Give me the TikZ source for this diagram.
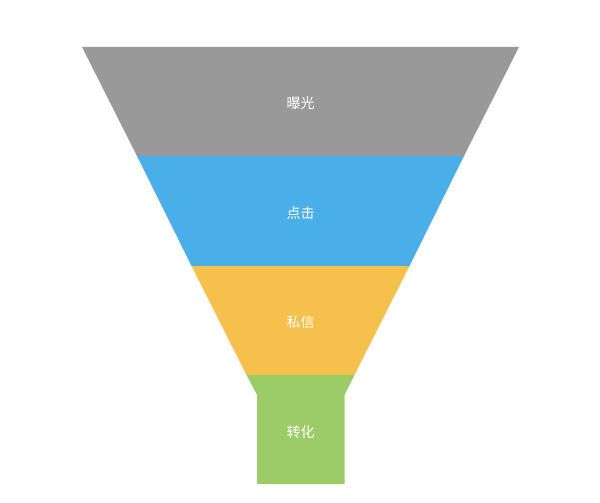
\documentclass[tikz,border=0pt]{standalone}
\usepackage{fontspec}
\newfontfamily\cjk{Noto Sans CJK SC}
\definecolor{cgray}{HTML}{999999}
\definecolor{cblue}{HTML}{4AAEE8}
\definecolor{cyellow}{HTML}{F5C04B}
\definecolor{cgreen}{HTML}{9BCC68}
\tikzset{lbl/.style={text=white,font=\cjk\fontsize{14}{16}\selectfont,inner sep=0pt}}
\begin{document}
\begin{tikzpicture}[x=1pt,y=-1pt]
\useasboundingbox (0,0) rectangle (600,503);
\fill[cgray] (82,47) -- (519,47) -- (464,156) -- (137,156) -- cycle;
\fill[cblue] (137,156) -- (464,156) -- (409.5,266) -- (191.5,266) -- cycle;
\fill[cyellow] (191.5,266) -- (409.5,266) -- (354.5,375) -- (246.5,375) -- cycle;
\fill[cgreen] (246.5,375) -- (354.5,375) -- (344.5,395) -- (344.5,484) -- (257,484) -- (257,395) -- cycle;
\node[lbl] (a) at (300.5,103) {曝光};
\node[lbl] (b) at (300.5,213) {点击};
\node[lbl] (c) at (300.5,322) {私信};
\node[lbl] (d) at (300.5,432) {转化};
\end{tikzpicture}
\end{document}
